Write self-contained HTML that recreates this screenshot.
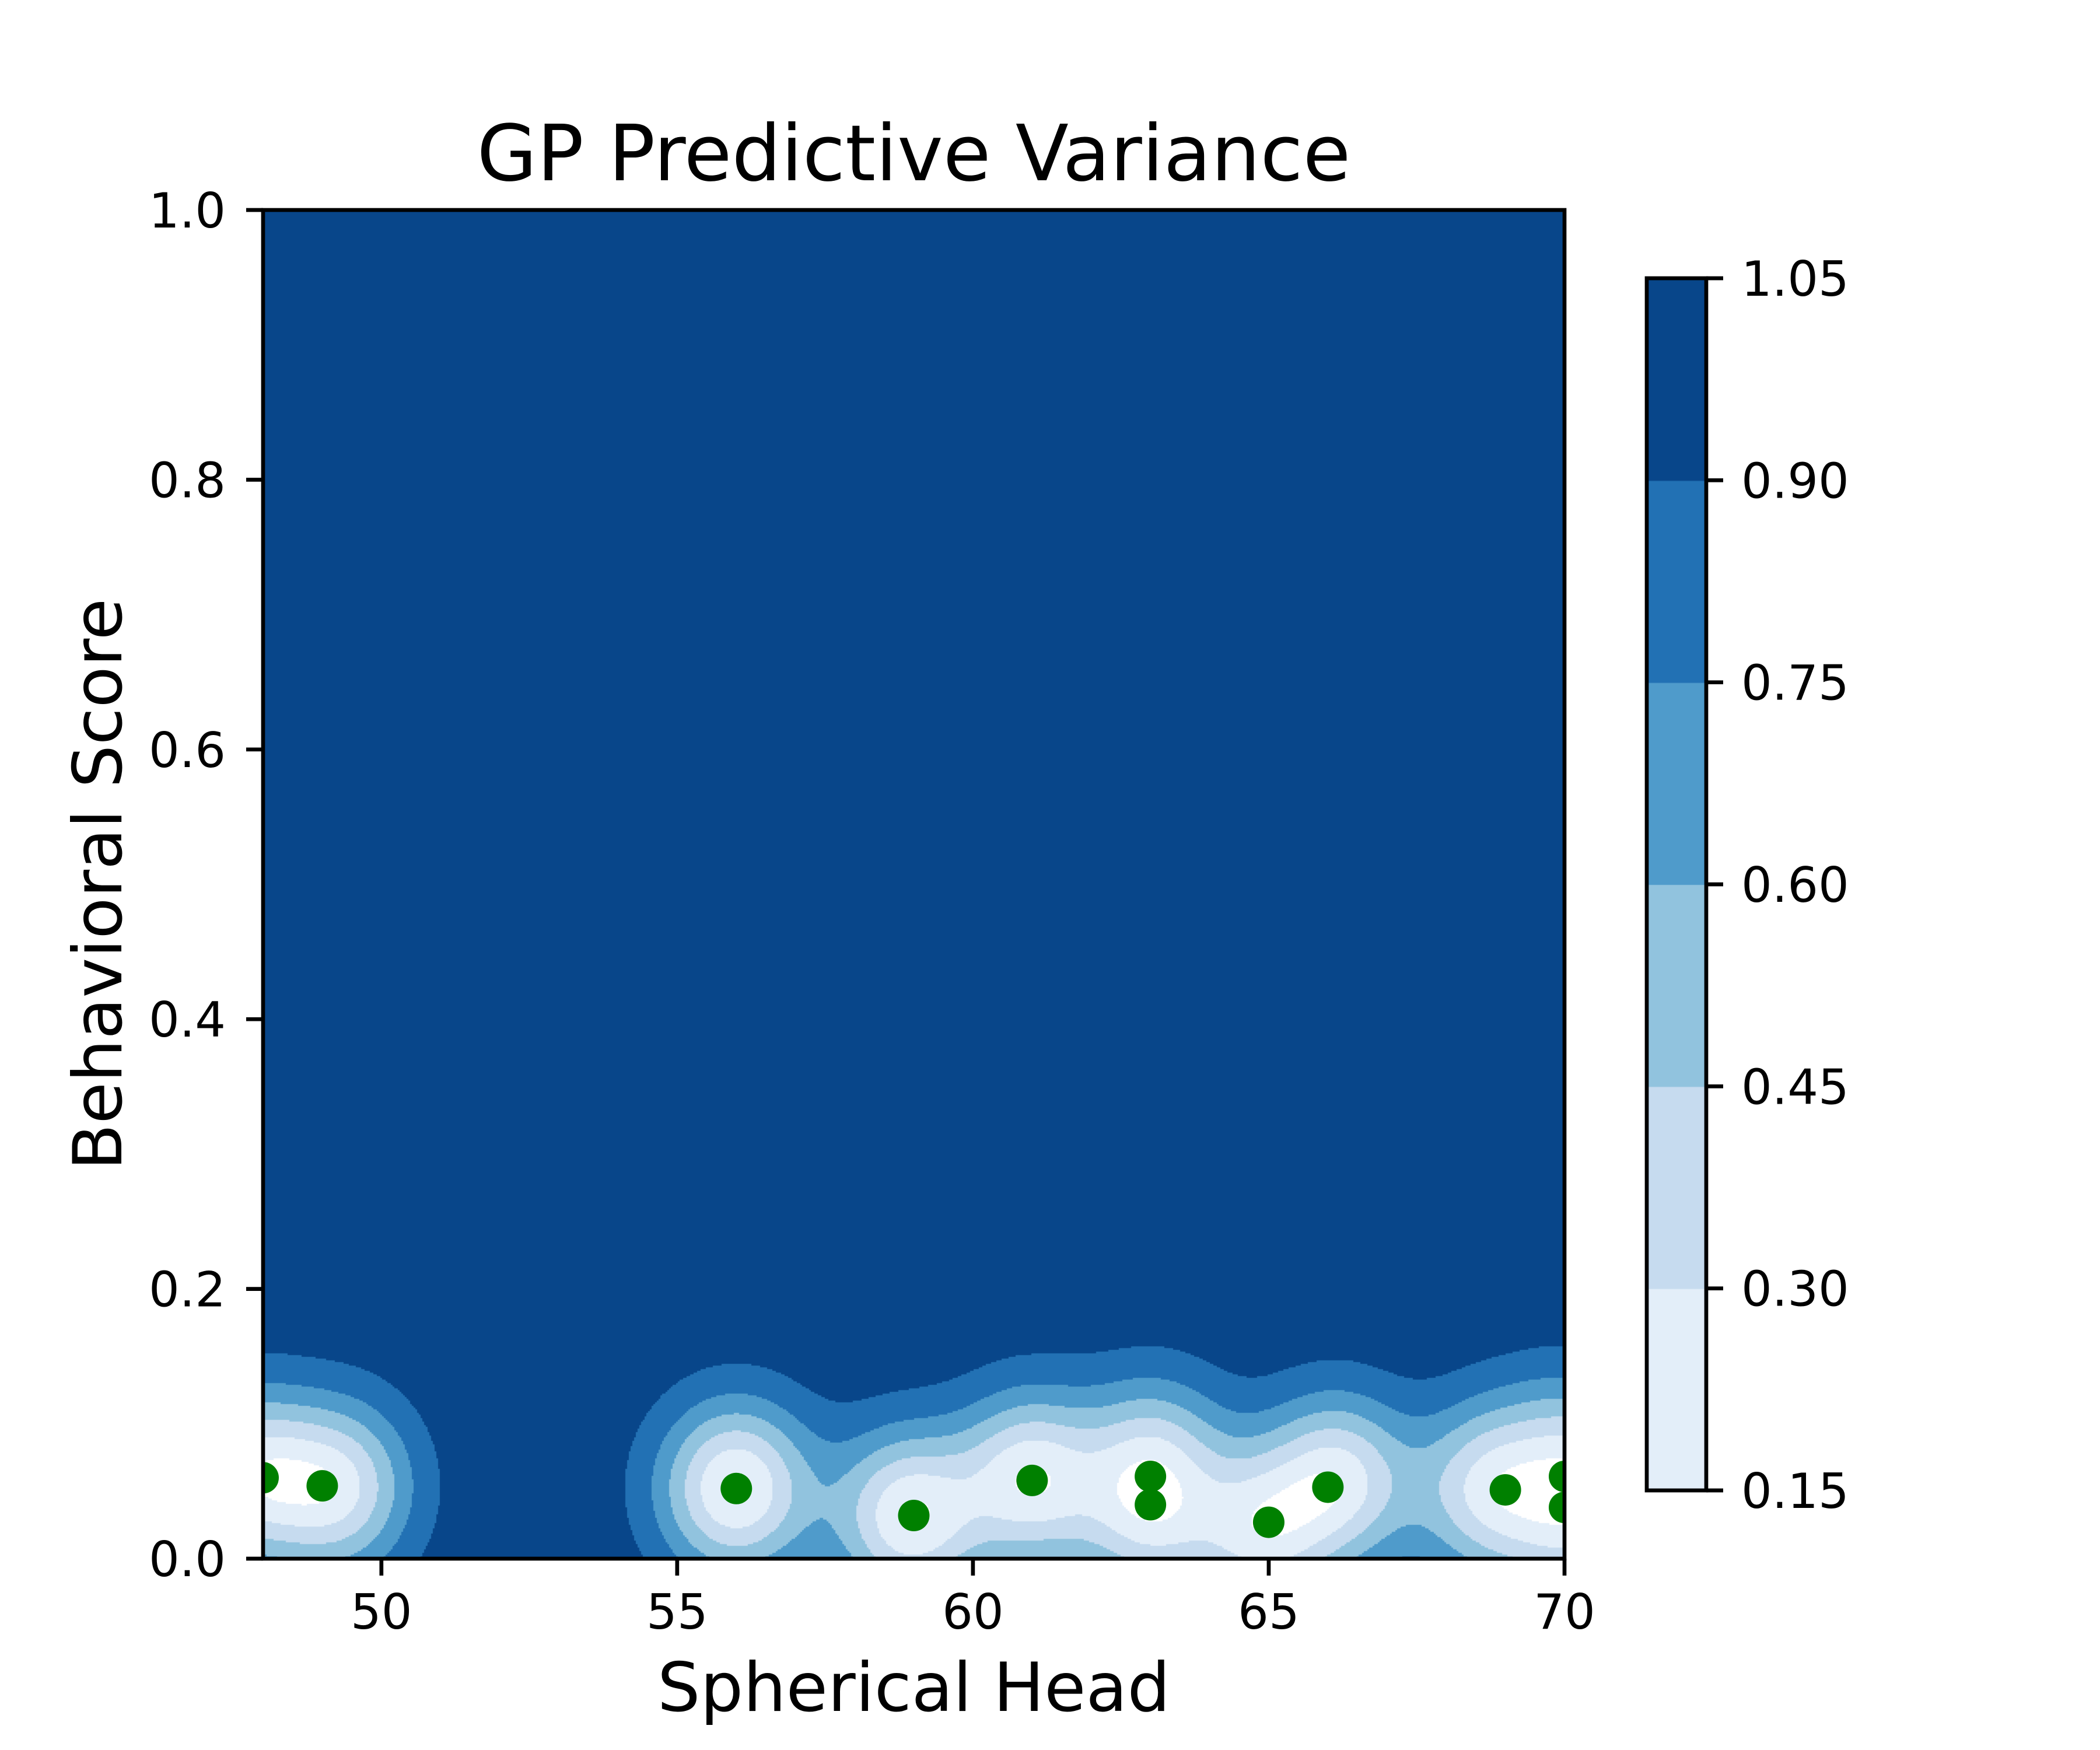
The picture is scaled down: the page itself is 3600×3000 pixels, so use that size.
<!DOCTYPE html>
<html><head><meta charset="utf-8"><style>
html,body{margin:0;padding:0;background:#fff;}
#wrap{position:relative;width:3600px;height:3000px;overflow:hidden;}
canvas,svg{position:absolute;left:0;top:0;}
text{font-family:"DejaVu Sans","Liberation Sans",sans-serif;fill:#000;}
</style></head><body>
<div id="wrap">
<canvas id="field" width="3600" height="3000"></canvas>
<svg id="svg" width="3600" height="3000"></svg>
</div>
<script>
// ---- data ----
const pointX = [48, 49, 56, 59, 61, 63, 63, 65, 66, 69, 70, 70];
const pointY = [0.060, 0.054, 0.052, 0.032, 0.058, 0.061, 0.040, 0.027, 0.053, 0.051, 0.061, 0.038];
const levels = [0.15, 0.30, 0.45, 0.60, 0.75, 0.90, 1.05];
const levelColors = ["#e3eef9", "#c6dbef", "#91c3de", "#4f9bcb", "#2271b4", "#08468a"];
const xTicks = [50, 55, 60, 65, 70];
const yTicks = [0.0, 0.2, 0.4, 0.6, 0.8, 1.0];
const yTickLabels = ["0.0", "0.2", "0.4", "0.6", "0.8", "1.0"];
const cbTickLabels = ["0.15", "0.30", "0.45", "0.60", "0.75", "0.90", "1.05"];
const lengthX = 1.28, lengthY = 0.063, noise = 0.15;

// ---- geometry ----
const L = 451, R = 2682, T = 360, B = 2672;
const xMin = 48, xMax = 70, yMin = 0, yMax = 1;
const sx = v => L + (v - xMin) / (xMax - xMin) * (R - L);
const sy = v => B - (v - yMin) / (yMax - yMin) * (B - T);
const CL = 2823, CR = 2925, CT = 477, CB = 2555;
const cy = v => CB - (v - levels[0]) / (levels[levels.length - 1] - levels[0]) * (CB - CT);

// ---- GP variance ----
const n = pointX.length;
const kern = (x1, y1, x2, y2) => Math.exp(-((x1 - x2) ** 2) / (2 * lengthX * lengthX) - ((y1 - y2) ** 2) / (2 * lengthY * lengthY));
let K = [];
for (let i = 0; i < n; i++) { K.push([]); for (let j = 0; j < n; j++) K[i].push(kern(pointX[i], pointY[i], pointX[j], pointY[j]) + (i === j ? noise : 0)); }
let A = K.map((r, i) => r.concat(Array.from({length: n}, (_, j) => i === j ? 1 : 0)));
for (let c = 0; c < n; c++) {
  let p = c; for (let r = c + 1; r < n; r++) if (Math.abs(A[r][c]) > Math.abs(A[p][c])) p = r;
  [A[c], A[p]] = [A[p], A[c]];
  const d = A[c][c]; for (let k = 0; k < 2 * n; k++) A[c][k] /= d;
  for (let r = 0; r < n; r++) if (r !== c) { const f = A[r][c]; for (let k = 0; k < 2 * n; k++) A[r][k] -= f * A[c][k]; }
}
const Kinv = A.map(r => r.slice(n));
function variance(x, y) {
  const k = pointX.map((px, i) => kern(x, y, px, pointY[i]));
  let s = 0;
  for (let i = 0; i < n; i++) { let t = 0; for (let j = 0; j < n; j++) t += Kinv[i][j] * k[j]; s += k[i] * t; }
  return 1 - s;
}
function colorFor(v) {
  if (v < levels[0]) return "#ffffff";
  for (let i = 0; i < levelColors.length; i++) if (v <= levels[i + 1]) return levelColors[i];
  return levelColors[levelColors.length - 1];
}
const ctx = document.getElementById('field').getContext('2d');
ctx.fillStyle = levelColors[5];
ctx.fillRect(L, T, R - L, B - T);
const cell = 3;
const yCut = sy(0.3);
for (let py = Math.floor(yCut); py < B; py += cell) {
  for (let px = L; px < R; px += cell) {
    const xv = xMin + (px + cell / 2 - L) / (R - L) * (xMax - xMin);
    const yv = (B - (py + cell / 2)) / (B - T);
    ctx.fillStyle = colorFor(variance(xv, yv));
    ctx.fillRect(px, py, Math.min(cell, R - px), Math.min(cell, B - py));
  }
}
for (let i = 0; i < levelColors.length; i++) {
  ctx.fillStyle = levelColors[i];
  ctx.fillRect(CL, cy(levels[i + 1]), CR - CL, cy(levels[i]) - cy(levels[i + 1]) + 1);
}

// ---- SVG overlay ----
const NS = "http://www.w3.org/2000/svg";
const svg = document.getElementById('svg');
function mk(tag, attrs, text) {
  const e = document.createElementNS(NS, tag);
  for (const k in attrs) e.setAttribute(k, attrs[k]);
  if (text !== undefined) e.textContent = text;
  svg.appendChild(e); return e;
}
const defs = mk('defs', {});
const cp = document.createElementNS(NS, 'clipPath'); cp.setAttribute('id', 'plotclip');
const cr = document.createElementNS(NS, 'rect');
cr.setAttribute('x', L); cr.setAttribute('y', T); cr.setAttribute('width', R - L); cr.setAttribute('height', B - T);
cp.appendChild(cr); defs.appendChild(cp);
const g = mk('g', {'clip-path': 'url(#plotclip)'});


for (let i = 0; i < n; i++) {
  const c = document.createElementNS(NS, 'circle');
  c.setAttribute('cx', sx(pointX[i])); c.setAttribute('cy', sy(pointY[i])); c.setAttribute('r', 27);
  c.setAttribute('fill', '#008000');
  
  
  g.appendChild(c);
}
const frame = mk('rect', {x: L, y: T, width: R - L, height: B - T, fill: 'none', stroke: '#000', 'stroke-width': 6.7});


xTicks.forEach(v => {
  const t = mk('line', {x1: sx(v), x2: sx(v), y1: B, y2: B + 29, stroke: '#000', 'stroke-width': 6.7});
  
  
  const lb = mk('text', {x: sx(v), y: 2792, 'font-size': 83, 'text-anchor': 'middle'}, String(v));
  
  
});
yTicks.forEach((v, i) => {
  const t = mk('line', {x1: L - 29, x2: L, y1: sy(v), y2: sy(v), stroke: '#000', 'stroke-width': 6.7});
  
  
  const lb = mk('text', {x: 387, y: sy(v) + 30, 'font-size': 83, 'text-anchor': 'end'}, yTickLabels[i]);
  
  
});
const title = mk('text', {x: (L + R) / 2, y: 309, 'font-size': 133, 'text-anchor': 'middle'}, 'GP Predictive Variance');


const xl = mk('text', {x: (L + R) / 2, y: 2933, 'font-size': 116, 'text-anchor': 'middle'}, 'Spherical Head');


const yl = mk('text', {x: 0, y: 0, 'font-size': 116, 'text-anchor': 'middle', transform: `translate(208,${(T + B) / 2}) rotate(-90)`}, 'Behavioral Score');


const cbf = mk('rect', {x: CL, y: CT, width: CR - CL, height: CB - CT, fill: 'none', stroke: '#000', 'stroke-width': 6.7});


levels.forEach((v, i) => {
  const t = mk('line', {x1: CR, x2: CR + 29, y1: cy(v), y2: cy(v), stroke: '#000', 'stroke-width': 6.7});
  
  
  const lb = mk('text', {x: 2985, y: cy(v) + 30, 'font-size': 83}, cbTickLabels[i]);
  
  
});
</script>
</body></html>
